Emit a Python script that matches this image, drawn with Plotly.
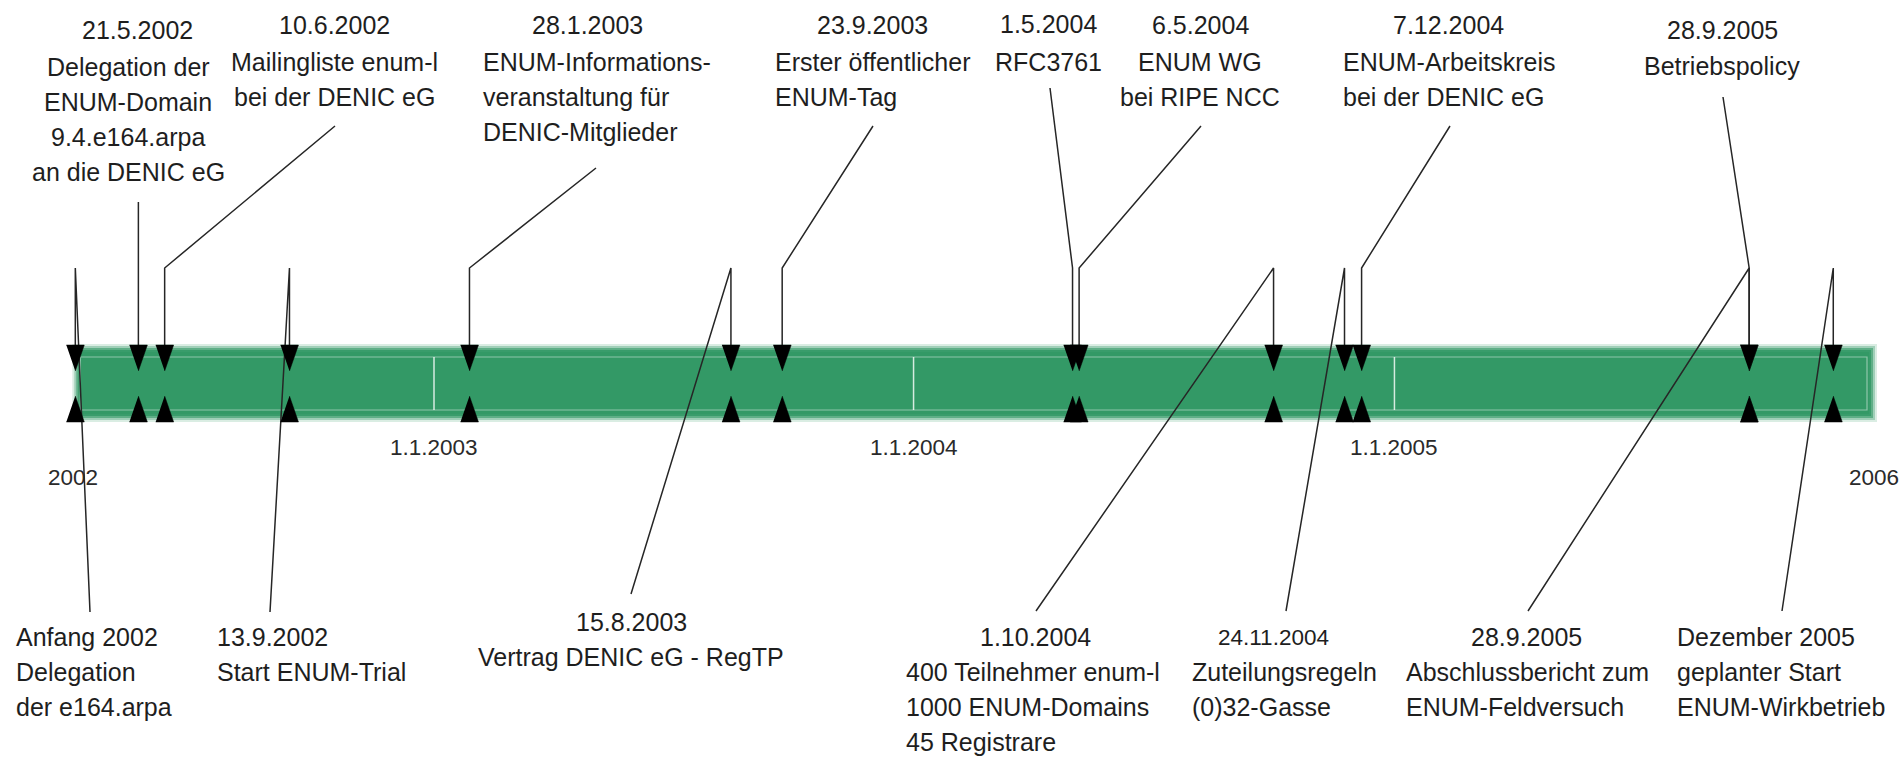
import pandas as pd
import plotly.graph_objects as go

# ---------------- data ----------------
event_dates = ['2002-04-03', '2002-05-21', '2002-06-10', '2002-09-13', '2003-01-28',
               '2003-08-15', '2003-09-23', '2004-05-01', '2004-05-06', '2004-10-01',
               '2004-11-24', '2004-12-07', '2005-09-28', '2005-09-28', '2005-12-01']
event_titles = ['Anfang 2002', '21.5.2002', '10.6.2002', '13.9.2002', '28.1.2003',
                '15.8.2003', '23.9.2003', '1.5.2004', '6.5.2004', '1.10.2004',
                '24.11.2004', '7.12.2004', '28.9.2005', '28.9.2005', 'Dezember 2005']
event_texts = [
    ['Delegation', 'der e164.arpa'],
    ['Delegation der', 'ENUM-Domain', '9.4.e164.arpa', 'an die DENIC eG'],
    ['Mailingliste enum-l', 'bei der DENIC eG'],
    ['Start ENUM-Trial'],
    ['ENUM-Informations-', 'veranstaltung für', 'DENIC-Mitglieder'],
    ['Vertrag DENIC eG - RegTP'],
    ['Erster öffentlicher', 'ENUM-Tag'],
    ['RFC3761'],
    ['ENUM WG', 'bei RIPE NCC'],
    ['400 Teilnehmer enum-l', '1000 ENUM-Domains', '45 Registrare'],
    ['Zuteilungsregeln', '(0)32-Gasse'],
    ['ENUM-Arbeitskreis', 'bei der DENIC eG'],
    ['Betriebspolicy'],
    ['Abschlussbericht zum', 'ENUM-Feldversuch'],
    ['geplanter Start', 'ENUM-Wirkbetrieb'],
]
event_sides = ['bottom', 'top', 'top', 'bottom', 'top', 'bottom', 'top', 'top', 'top',
               'bottom', 'bottom', 'top', 'top', 'bottom', 'bottom']

timeline_start = '2002-04-03'
timeline_end = '2006-01-01'
year_marks = ['2003-01-01', '2004-01-01', '2005-01-01']
tick_dates = ['2002-04-03', '2003-01-01', '2004-01-01', '2005-01-01', '2006-01-01']
tick_labels = ['2002', '1.1.2003', '1.1.2004', '1.1.2005', '2006']

# ---------------- layout (pixels) ----------------
W, H = 1902, 757
ORIGIN = pd.Timestamp('2003-01-01')
ORIGIN_PX = 434.0
PPD = (1874.0 - 434.0) / 1096.0  # pixels per day


def px2date(p):
    return ORIGIN + pd.Timedelta(days=(p - ORIGIN_PX) / PPD)


def shift(d, p):
    return pd.Timestamp(d) + pd.Timedelta(days=p / PPD)


FONT = 'Liberation Sans, Arial, sans-serif'
TXT = '#1e1e1e'
GREEN = (51, 153, 102)
LINE_SP = 35
BAR_TOP, BAR_BOT = 345, 421
BEND_Y = 268
MAIN_SIZE = 25
SMALL_SIZE = 22.5

# title_x, title_anchor, title_y, body_x, body_anchor, body_y, end_x, end_y, title_size
label_layout = [
    (14, 'left', 637, 14, 'left', 672, 90, 612, MAIN_SIZE),
    (137, 'center', 30, 128, 'center', 67, None, 202, MAIN_SIZE),
    (334, 'center', 25, 334, 'center', 62, 335, 126, MAIN_SIZE),
    (215, 'left', 637, 215, 'left', 672, 270, 612, MAIN_SIZE),
    (587, 'center', 25, 481, 'left', 62, 596, 168, MAIN_SIZE),
    (631, 'center', 622, 631, 'center', 657, 631, 594, MAIN_SIZE),
    (872, 'center', 25, 773, 'left', 62, 873, 126, MAIN_SIZE),
    (1048, 'center', 24, 1048, 'center', 62, 1050, 88, MAIN_SIZE),
    (1200, 'center', 25, 1200, 'center', 62, 1201, 126, MAIN_SIZE),
    (1035, 'center', 637, 904, 'left', 672, 1036, 611, MAIN_SIZE),
    (1273, 'center', 637, 1190, 'left', 672, 1286, 611, SMALL_SIZE),
    (1448, 'center', 25, 1341, 'left', 62, 1450, 126, MAIN_SIZE),
    (1722, 'center', 30, 1722, 'center', 66, 1723, 97, MAIN_SIZE),
    (1526, 'center', 637, 1404, 'left', 672, 1528, 611, MAIN_SIZE),
    (1675, 'left', 637, 1675, 'left', 672, 1782, 611, MAIN_SIZE),
]
tick_layout = [(73, 477), (None, 447), (None, 447), (None, 447), (None, 477)]

fig = go.Figure()
shapes = []

# bar with soft edges
for i, a in enumerate([0.18, 0.35, 0.6, 0.85, 1.0]):
    inset = 2 * i
    shapes.append(dict(type='rect', xref='x', yref='y', layer='below',
                       x0=shift(timeline_start, -3 + inset), x1=shift(timeline_end, 3 - inset),
                       y0=BAR_TOP - 1 + inset, y1=BAR_BOT + 1 - inset,
                       line=dict(width=0), fillcolor='rgba(%d,%d,%d,%.2f)' % (*GREEN, a)))
shapes.append(dict(type='rect', xref='x', yref='y', layer='below',
                   x0=shift(timeline_start, 5), x1=shift(timeline_end, -7),
                   y0=357, y1=410, line=dict(width=1.2, color='rgba(255,255,255,0.45)'),
                   fillcolor='rgba(0,0,0,0)'))
for d in year_marks:
    shapes.append(dict(type='line', xref='x', yref='y', layer='below', x0=d, x1=d,
                       y0=357, y1=410, line=dict(width=1.5, color='rgba(255,255,255,0.8)')))

# leader lines
lx, ly = [], []
for d, lay in zip(event_dates, label_layout):
    end_x = pd.Timestamp(d) if lay[6] is None else px2date(lay[6])
    lx += [end_x, pd.Timestamp(d), pd.Timestamp(d), None]
    ly += [lay[7], BEND_Y, BAR_TOP + 2, None]
fig.add_trace(go.Scatter(x=lx, y=ly, mode='lines', line=dict(color='#262626', width=1.5),
                         hoverinfo='skip', showlegend=False))

# arrowheads
tx, ty = [], []
half = 9
for d in event_dates:
    tx += [shift(d, -half), shift(d, half), pd.Timestamp(d), None]
    ty += [BAR_TOP, BAR_TOP, 371, None]
    tx += [shift(d, -half), shift(d, half), pd.Timestamp(d), None]
    ty += [BAR_BOT + 1, BAR_BOT + 1, 396, None]
fig.add_trace(go.Scatter(x=tx, y=ty, mode='lines', fill='toself', fillcolor='black',
                         line=dict(color='black', width=0.5), hoverinfo='skip', showlegend=False))

annotations = []


def add_text(txt, x, y, anchor, size):
    annotations.append(dict(text=txt, x=x / W, xref='paper', y=y, yref='y',
                            xanchor=anchor, yanchor='middle', align=anchor,
                            showarrow=False, font=dict(family=FONT, size=size, color=TXT)))


for title, lines, lay in zip(event_titles, event_texts, label_layout):
    add_text(title, lay[0], lay[2], lay[1], lay[8])
    for i, ln in enumerate(lines):
        add_text(ln, lay[3], lay[5] + i * LINE_SP, lay[4], MAIN_SIZE)

for d, lab, tl in zip(tick_dates, tick_labels, tick_layout):
    xp = tl[0]
    annotations.append(dict(text=lab, x=d if xp is None else px2date(xp), xref='x', y=tl[1], yref='y',
                            xanchor='center', yanchor='middle', showarrow=False,
                            font=dict(family=FONT, size=SMALL_SIZE, color='#2a2a2a')))

fig.update_layout(
    width=W, height=H, margin=dict(l=0, r=0, t=0, b=0),
    paper_bgcolor='white', plot_bgcolor='white',
    xaxis=dict(type='date', range=[px2date(0), px2date(W)], visible=False, fixedrange=True),
    yaxis=dict(range=[H, 0], visible=False, fixedrange=True),
    shapes=shapes, annotations=annotations, showlegend=False,
)

fig.write_html('out.html', config={'displayModeBar': False},
               post_script="document.body.style.margin='0';document.body.style.overflow='hidden';")
